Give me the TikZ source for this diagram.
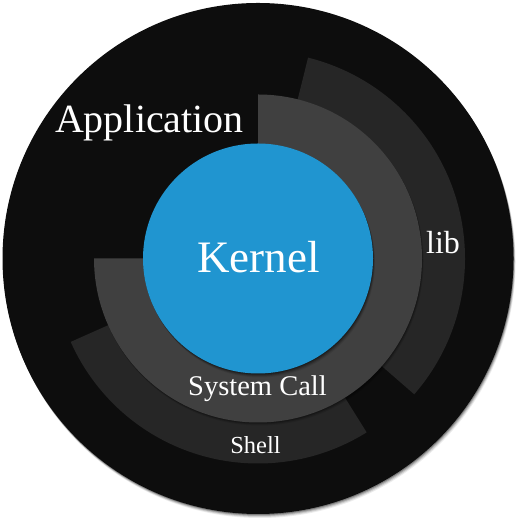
\documentclass[tikz,border=0pt]{standalone}
\usepackage{fontspec}
\setmainfont{Liberation Serif}
\usetikzlibrary{calc}
\definecolor{bgblack}{HTML}{0D0D0D}
\definecolor{syscol}{HTML}{404040}
\definecolor{ringcol}{HTML}{262626}
\definecolor{kernelblue}{HTML}{2095D0}
\tikzset{
  label text/.style={text=white, inner sep=0pt, anchor=base},
}
\newcommand{\annsec}[5]{% color, r1, r2, a1, a2
  \fill[#1, shift={(258,267.5)}] (#4:#2) -- (#4:#3) arc[start angle=#4, end angle=#5, radius=#3] -- (#5:#2) arc[start angle=#5, end angle=#4, radius=#2] -- cycle;}
\begin{document}
\begin{tikzpicture}[x=1pt,y=1pt]
\useasboundingbox (0,0) rectangle (518,526);
\fill[white] (0,0) rectangle (518,526);
\coordinate (C) at (258,267.5);
% outer shadow
\foreach \o/\op in {4/0.08,3/0.12,2/0.18,1/0.25}{
  \fill[black, opacity=\op] ($(C)+(0.5*\o,-\o)$) circle[radius=255.5];
}
\fill[bgblack] (C) circle[radius=255.5];
% lib and shell (behind)
\annsec{ringcol}{160}{207}{-41}{76}
\annsec{ringcol}{160}{205}{204}{302}
% system call shadow
\foreach \o/\op in {3/0.10,2/0.15,1/0.2}{
  \begin{scope}[shift={(0.5*\o,-\o)}]
  \fill[black, opacity=\op, shift={(258,267.5)}] (180:110) -- (180:164) arc[start angle=180, end angle=450, radius=164] -- (90:110) arc[start angle=90, end angle=-180, radius=110] -- cycle;
  \end{scope}
}
\annsec{syscol}{110}{164}{-180}{90}
% kernel
\foreach \o/\op in {4/0.08,3/0.12,2/0.18,1/0.25}{
  \fill[black, opacity=\op] ($(C)+(0.5*\o,-\o)$) circle[radius=115];
}
\node[circle, fill=kernelblue, minimum size=230pt, inner sep=0pt] (kernel) at (C) {};
\node[label text, font=\fontsize{45}{50}\selectfont] (kerneltext) at (258.5,253) {Kernel};
\node[label text, font=\fontsize{40}{44}\selectfont] (app) at (149.5,393) {Application};
\node[label text, font=\fontsize{32}{36}\selectfont] (lib) at (443,272) {lib};
\node[label text, font=\fontsize{28.5}{32}\selectfont] (syscall) at (257.5,130) {System Call};
\node[label text, font=\fontsize{24.5}{28}\selectfont] (shell) at (255.5,72) {Shell};
\end{tikzpicture}
\end{document}
